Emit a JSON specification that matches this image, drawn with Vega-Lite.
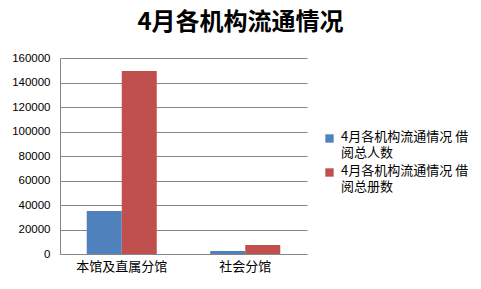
{
  "$schema": "https://vega.github.io/schema/vega-lite/v6.json",
  "autosize": "none",
  "width": 247,
  "height": 196,
  "padding": {"left": 60, "top": 58, "right": 174, "bottom": 35},
  "background": "white",
  "title": {
    "text": "4月各机构流通情况",
    "font": "Noto Sans CJK SC",
    "fontSize": 24,
    "fontWeight": "bold",
    "color": "#000000",
    "anchor": "middle",
    "dx": 57,
    "offset": 17
  },
  "data": {
    "values": [
      {"org": "本馆及直属分馆", "series": "4月各机构流通情况 借阅总人数", "value": 35100},
      {"org": "本馆及直属分馆", "series": "4月各机构流通情况 借阅总册数", "value": 149400},
      {"org": "社会分馆", "series": "4月各机构流通情况 借阅总人数", "value": 2450},
      {"org": "社会分馆", "series": "4月各机构流通情况 借阅总册数", "value": 7350}
    ]
  },
  "mark": {"type": "bar"},
  "encoding": {
    "x": {
      "field": "org", "type": "nominal", "sort": null, "title": null,
      "scale": {"paddingInner": 0.433, "paddingOuter": 0.2165},
      "axis": {"labelAngle": 0, "ticks": false, "labelPadding": 6, "labelFontSize": 13, "labelFont": "Noto Sans CJK SC", "labelColor": "#000000", "domainColor": "#868686", "domainWidth": 1}
    },
    "xOffset": {"field": "series", "type": "nominal", "scale": {"paddingInner": 0, "paddingOuter": 0}},
    "y": {
      "field": "value", "type": "quantitative", "title": null,
      "scale": {"domain": [0, 160000], "nice": false},
      "axis": {"values": [0, 20000, 40000, 60000, 80000, 100000, 120000, 140000, 160000], "format": "d", "ticks": false, "labelPadding": 10, "labelFontSize": 11.5, "labelFont": "Liberation Sans", "labelColor": "#000000", "domainColor": "#868686", "gridColor": "#868686", "gridWidth": 1}
    },
    "color": {
      "field": "series", "type": "nominal", "title": null,
      "scale": {"range": ["#4F81BD", "#C0504D"]},
      "legend": {
        "orient": "none", "legendX": 263, "legendY": 74,
        "symbolType": "square", "symbolSize": 70, "symbolStrokeWidth": 0,
        "labelFont": "Noto Sans CJK SC", "labelFontSize": 13, "labelColor": "#000000",
        "labelExpr": "[slice(datum.label,0,11), slice(datum.label,11)]",
        "labelLimit": 200, "rowPadding": 4, "labelOffset": 5,
        "labelBaseline": "top",
        "encode": {"labels": {"update": {"lineHeight": {"value": 16}, "dy": {"value": -8}}}}
      }
    }
  },
  "config": {"view": {"stroke": null}}
}
